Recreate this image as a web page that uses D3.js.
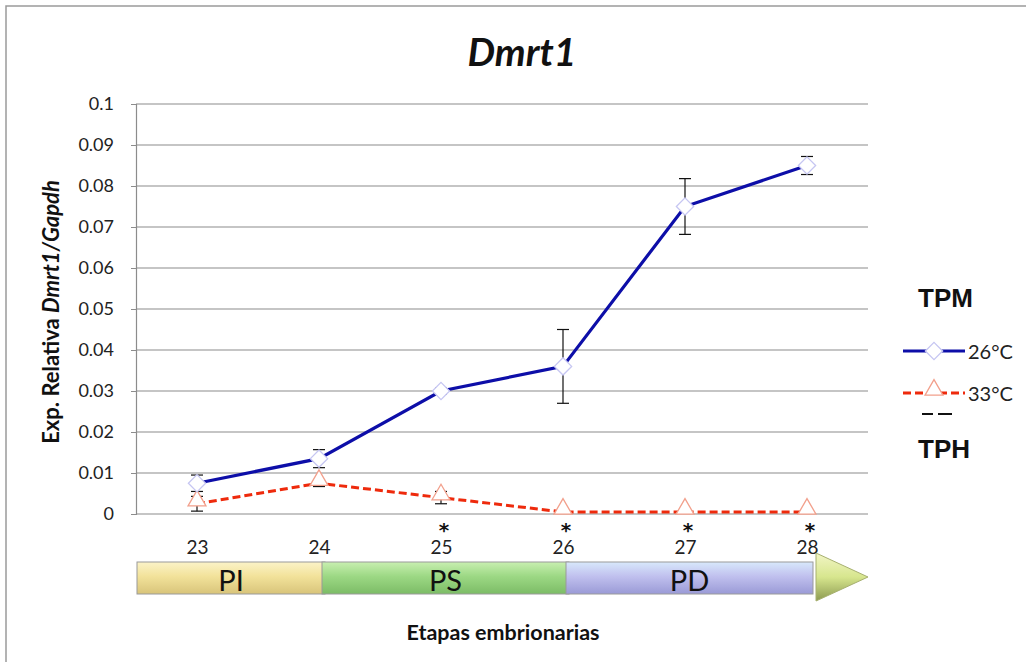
<!DOCTYPE html>
<html>
<head>
<meta charset="utf-8">
<script src="https://cdn.jsdelivr.net/npm/d3@7/dist/d3.min.js"></script>
<style>
  html, body { margin: 0; padding: 0; background: #fff; }
  svg { display: block; }
</style>
</head>
<body>
<svg id="chart" width="1026" height="662" font-family="Lato, 'Open Sans', 'Liberation Sans', sans-serif"></svg>
<script>
// Embryonic stages (x categories)
const stages = [23, 24, 25, 26, 27, 28];
// Relative expression Dmrt1/Gapdh at 26°C (male-producing temperature)
const values26 = [0.0075, 0.0135, 0.030, 0.036, 0.075, 0.085];
const errors26 = [0.002, 0.0022, 0.0008, 0.009, 0.0068, 0.0022];
// Relative expression at 33°C (female-producing temperature)
const values33 = [0.0025, 0.0075, 0.004, 0.0005, 0.0005, 0.0005];
const errors33 = [0.0018, 0.0008, 0.0015, 0.0003, 0.0003, 0.0003];
// Stages with a significant difference
const significant = [25, 26, 27, 28];
// y-axis ticks
const yTicks = [0, 0.01, 0.02, 0.03, 0.04, 0.05, 0.06, 0.07, 0.08, 0.09, 0.1];
// Developmental periods shown under the axis
const periodNames = ["PI", "PS", "PD"];
const periodStart = [22.5, 24, 26];
const periodEnd = [24, 26, 28];
const periodTop = ["#fbf3c8", "#c8efb0", "#d8e8fb"];
const periodMid = ["#f2e29a", "#9cd884", "#c0c0ee"];
const periodBot = ["#d8c47a", "#7cbc66", "#9a9ad6"];

const svg = d3.select("#chart");
const W = 1026, H = 662;
const plot = { left: 136, right: 868, top: 104, bottom: 514 };

const x = d3.scaleLinear().domain([22.5, 28.5]).range([plot.left, plot.right]);
const y = d3.scaleLinear().domain([0, 0.1]).range([plot.bottom, plot.top]);

// outer frame
svg.append("path")
  .attr("d", `M6,${H} L6,6 L${W},6`)
  .attr("fill", "none").attr("stroke", "#9a9a9a").attr("stroke-width", 1.5);

// title
svg.append("text")
  .attr("x", 522).attr("y", 66)
  .attr("text-anchor", "middle")
  .attr("font-size", 39).attr("font-weight", "bold").attr("font-style", "italic")
  .attr("fill", "#111")
  .text("Dmrt1");

// gridlines
svg.append("g").selectAll("line").data(yTicks.filter(d => d > 0)).join("line")
  .attr("x1", plot.left).attr("x2", plot.right)
  .attr("y1", d => y(d)).attr("y2", d => y(d))
  .attr("stroke", "#8c8c8c").attr("stroke-width", 1.2);

// y axis
const yAxis = d3.axisLeft(y).tickValues(yTicks).tickSize(5).tickPadding(17)
  .tickFormat(d => String(+d.toFixed(2)));
const gy = svg.append("g").attr("transform", `translate(${plot.left},0)`).call(yAxis);
gy.attr("font-family", null);
gy.select(".domain").attr("stroke", "#8c8c8c").attr("stroke-width", 1.2);
gy.selectAll(".tick line").attr("stroke", "#8c8c8c");
gy.selectAll(".tick text").attr("font-size", 18).attr("fill", "#222");

// x axis baseline
svg.append("line")
  .attr("x1", plot.left).attr("x2", plot.right)
  .attr("y1", plot.bottom).attr("y2", plot.bottom)
  .attr("stroke", "#8c8c8c").attr("stroke-width", 1.2);

// x category labels
const xAxis = d3.axisBottom(x).tickValues(stages).tickSize(0).tickPadding(27)
  .tickFormat(d3.format("d"));
const gx = svg.append("g").attr("transform", `translate(0,${plot.bottom})`).call(xAxis);
gx.attr("font-family", null);
gx.select(".domain").remove();
gx.selectAll(".tick text").attr("font-size", 19).attr("fill", "#222");

// y-axis title
const yt = svg.append("text")
  .attr("transform", "translate(59,312) rotate(-90)")
  .attr("text-anchor", "middle")
  .attr("font-size", 22).attr("font-weight", "bold").attr("fill", "#111");
yt.append("tspan").text("Exp. Relativa ");
yt.append("tspan").attr("font-style", "italic").text("Dmrt1/Gapdh");

// x-axis title
svg.append("text")
  .attr("x", 503).attr("y", 640)
  .attr("text-anchor", "middle")
  .attr("font-size", 21.5).attr("font-weight", "bold").attr("fill", "#111")
  .text("Etapas embrionarias");

// period bars
const defs = svg.append("defs");
periodNames.forEach((p, i) => {
  const g = defs.append("linearGradient").attr("id", "grad" + i)
    .attr("x1", 0).attr("x2", 0).attr("y1", 0).attr("y2", 1);
  g.append("stop").attr("offset", "0%").attr("stop-color", periodTop[i]);
  g.append("stop").attr("offset", "45%").attr("stop-color", periodMid[i]);
  g.append("stop").attr("offset", "100%").attr("stop-color", periodBot[i]);
});
const arrowGrad = defs.append("linearGradient").attr("id", "gradArrow")
  .attr("x1", 0).attr("x2", 0).attr("y1", 0).attr("y2", 1);
arrowGrad.append("stop").attr("offset", "0%").attr("stop-color", "#f2f5c6");
arrowGrad.append("stop").attr("offset", "50%").attr("stop-color", "#d7e68e");
arrowGrad.append("stop").attr("offset", "100%").attr("stop-color", "#8c9a50");

const barTop = 562, barH = 32;
const periods = svg.append("g");
periodNames.forEach((p, i) => {
  const x0 = x(periodStart[i]) + (i === 0 ? 1 : 3);
  const x1 = x(periodEnd[i]) + 6;
  periods.append("rect")
    .attr("x", x0).attr("y", barTop).attr("width", x1 - x0).attr("height", barH)
    .attr("fill", `url(#grad${i})`).attr("stroke", "#9a9a9a").attr("stroke-width", 1);
  periods.append("text")
    .attr("x", (x0 + x1) / 2).attr("y", barTop + 29)
    .attr("text-anchor", "middle")
    .attr("font-size", 29).attr("fill", "#111")
    .text(p);
});
const ax0 = x(periodEnd[2]) + 9;
periods.append("path")
  .attr("d", `M${ax0},553 L${plot.right},577 L${ax0},601 Z`)
  .attr("fill", "url(#gradArrow)").attr("stroke", "#a7b070").attr("stroke-width", 1);

// error bars
function errorBars(vals, errs, cls) {
  const g = svg.append("g").attr("class", cls);
  stages.forEach((s, i) => {
    const cx = x(s), lo = y(vals[i] - errs[i]), hi = y(vals[i] + errs[i]);
    g.append("line").attr("x1", cx).attr("x2", cx).attr("y1", lo).attr("y2", hi)
      .attr("stroke", "#111").attr("stroke-width", 1.2);
    [lo, hi].forEach(yy => g.append("line")
      .attr("x1", cx - 6).attr("x2", cx + 6).attr("y1", yy).attr("y2", yy)
      .attr("stroke", "#111").attr("stroke-width", 1.2));
  });
}
errorBars(values33, errors33, "err33");
errorBars(values26, errors26, "err26");

// lines
const line = d3.line().x(d => x(d[0])).y(d => y(d[1]));
svg.append("path")
  .datum(stages.map((s, i) => [s, values33[i]]))
  .attr("d", line).attr("fill", "none")
  .attr("stroke", "#ee2a0c").attr("stroke-width", 3).attr("stroke-dasharray", "8,4");
svg.append("path")
  .datum(stages.map((s, i) => [s, values26[i]]))
  .attr("d", line).attr("fill", "none")
  .attr("stroke", "#0d0ea8").attr("stroke-width", 3.2);

// markers
const diamond = d3.symbol().type(d3.symbolDiamond2).size(190);
const triangle = d3.symbol().type(d3.symbolTriangle2).size(230);
svg.append("g").selectAll("path").data(stages).join("path")
  .attr("d", triangle)
  .attr("transform", (d, i) => `translate(${x(d)},${y(values33[i]) - 3})`)
  .attr("fill", "#fff").attr("stroke", "#f2a08c").attr("stroke-width", 1.3);
svg.append("g").selectAll("path").data(stages).join("path")
  .attr("d", diamond)
  .attr("transform", (d, i) => `translate(${x(d)},${y(values26[i])})`)
  .attr("fill", "#fff").attr("stroke", "#c6c6f2").attr("stroke-width", 1.3);

// significance marks
svg.append("g").selectAll("text").data(significant).join("text")
  .attr("x", d => x(d) + 3).attr("y", 537)
  .attr("text-anchor", "middle")
  .attr("font-family", "'DejaVu Sans', sans-serif")
  .attr("font-size", 20).attr("font-weight", "bold").attr("fill", "#111")
  .text("*");

// legend
const leg = svg.append("g");
leg.append("text").attr("x", 918).attr("y", 307)
  .attr("font-size", 26).attr("font-weight", "bold").attr("fill", "#111")
  .attr("font-family", "'Liberation Sans', Arial, sans-serif").text("TPM");
leg.append("text").attr("x", 918).attr("y", 458)
  .attr("font-size", 26).attr("font-weight", "bold").attr("fill", "#111")
  .attr("font-family", "'Liberation Sans', Arial, sans-serif").text("TPH");
leg.append("line").attr("x1", 903).attr("x2", 965).attr("y1", 351).attr("y2", 351)
  .attr("stroke", "#0d0ea8").attr("stroke-width", 3.2);
leg.append("path").attr("d", diamond).attr("transform", "translate(934,351)")
  .attr("fill", "#fff").attr("stroke", "#c6c6f2").attr("stroke-width", 1.3);
leg.append("line").attr("x1", 903).attr("x2", 965).attr("y1", 393).attr("y2", 393)
  .attr("stroke", "#ee2a0c").attr("stroke-width", 3).attr("stroke-dasharray", "8,4");
leg.append("path").attr("d", triangle).attr("transform", "translate(934,390)")
  .attr("fill", "#fff").attr("stroke", "#f2a08c").attr("stroke-width", 1.3);
leg.append("text").attr("x", 968).attr("y", 359)
  .attr("font-size", 20).attr("fill", "#222").text("26°C");
leg.append("text").attr("x", 968).attr("y", 401)
  .attr("font-size", 20).attr("fill", "#222").text("33°C");
// small black marks below the 33°C key
leg.append("line").attr("x1", 922).attr("x2", 933).attr("y1", 414).attr("y2", 414)
  .attr("stroke", "#111").attr("stroke-width", 2);
leg.append("line").attr("x1", 938).attr("x2", 952).attr("y1", 414).attr("y2", 414)
  .attr("stroke", "#111").attr("stroke-width", 2);
</script>
</body>
</html>
